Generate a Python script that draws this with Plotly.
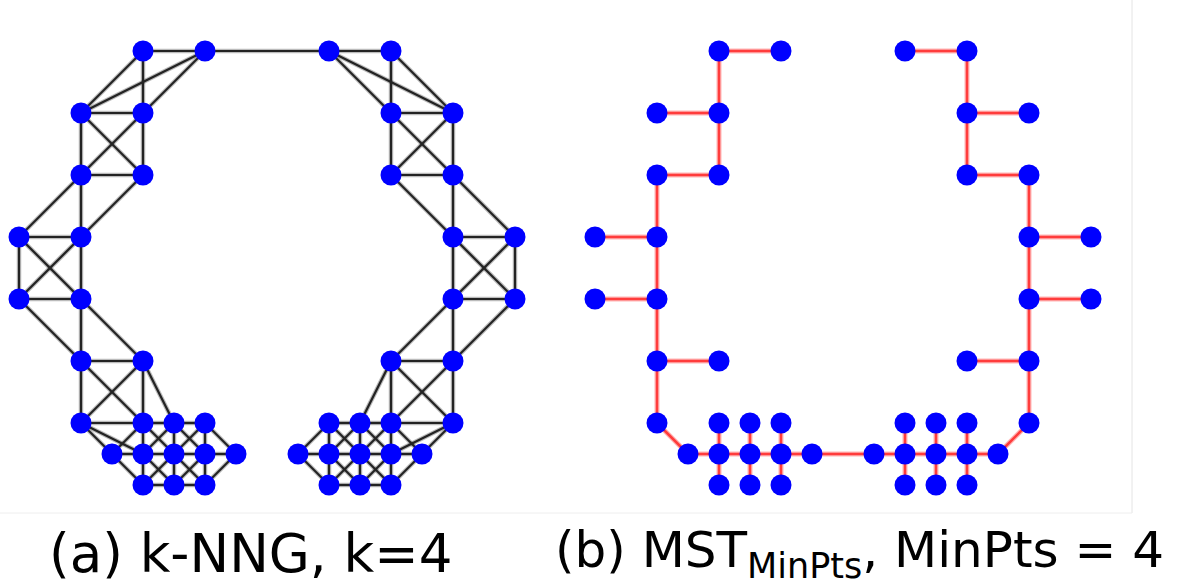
import plotly.graph_objects as go

# Node positions on a half-step grid (u to the right, v downwards), 48 points
NODE_U = [4, 6, 2, 4, 2, 4, 0, 2, 0, 2, 2, 4, 2, 4, 5, 6, 3, 4, 5, 6, 7, 4, 5, 6,
          12, 10, 14, 12, 14, 12, 16, 14, 16, 14, 14, 12, 14, 12, 11, 10, 13, 12, 11, 10, 9, 12, 11, 10]
NODE_V = [0, 0, 2, 2, 4, 4, 6, 6, 8, 8, 10, 10, 12, 12, 12, 12, 13, 13, 13, 13, 13, 14, 14, 14,
          0, 0, 2, 2, 4, 4, 6, 6, 8, 8, 10, 10, 12, 12, 12, 12, 13, 13, 13, 13, 13, 14, 14, 14]

# k-nearest-neighbour graph (k = 4), as index pairs
KNN_EDGES = [
    (0, 1), (0, 2), (0, 3), (1, 2), (1, 3), (2, 3), (2, 4), (2, 5), (3, 4), (3, 5), (4, 5),
    (4, 6), (4, 7), (5, 7), (6, 7), (6, 8), (6, 9), (7, 8), (7, 9), (8, 9), (8, 10), (9, 10),
    (9, 11), (10, 11), (10, 12), (10, 13), (11, 12), (11, 13), (11, 14), (12, 13), (12, 16),
    (12, 17), (13, 14), (14, 15), (13, 16), (13, 17), (13, 18), (14, 17), (14, 18), (14, 19),
    (15, 18), (15, 19), (15, 20), (16, 17), (16, 21), (17, 18), (17, 21), (17, 22), (18, 19),
    (18, 21), (18, 22), (18, 23), (19, 20), (19, 22), (19, 23), (20, 23), (21, 22), (22, 23),
    (24, 25), (24, 26), (24, 27), (25, 26), (25, 27), (26, 27), (26, 28), (26, 29), (27, 28),
    (27, 29), (28, 29), (28, 30), (28, 31), (29, 31), (30, 31), (30, 32), (30, 33), (31, 32),
    (31, 33), (32, 33), (32, 34), (33, 34), (33, 35), (34, 35), (34, 36), (34, 37), (35, 36),
    (35, 37), (35, 38), (36, 37), (36, 40), (36, 41), (37, 38), (38, 39), (37, 40), (37, 41),
    (37, 42), (38, 41), (38, 42), (38, 43), (39, 42), (39, 43), (39, 44), (40, 41), (40, 45),
    (41, 42), (41, 45), (41, 46), (42, 43), (42, 45), (42, 46), (42, 47), (43, 44), (43, 46),
    (43, 47), (44, 47), (45, 46), (46, 47),
    (1, 25),
]

# Minimum spanning tree on mutual-reachability distances (MinPts = 4)
MST_EDGES = [
    (0, 1), (0, 3), (2, 3), (3, 5), (4, 5), (4, 7), (6, 7), (7, 9), (8, 9), (9, 10),
    (10, 11), (10, 12), (12, 16), (16, 17), (17, 13), (17, 21), (17, 18), (18, 14),
    (18, 22), (18, 19), (19, 15), (19, 23), (19, 20),
    (24, 25), (24, 27), (26, 27), (27, 29), (28, 29), (28, 31), (30, 31), (31, 33),
    (32, 33), (33, 34), (34, 35), (34, 36), (36, 40), (40, 41), (41, 37), (41, 45),
    (41, 42), (42, 38), (42, 46), (42, 43), (43, 39), (43, 47), (43, 44),
    (20, 44),
]

CAPTIONS = ["(a) k-NNG, k=4", "(b) MST<sub>MinPts</sub>, MinPts = 4"]

# Page geometry
W, H = 1182, 585
UNIT = 31            # pixels per grid unit
TOP = 51             # pixel row of v = 0
PANEL_LEFT = [19, 595]  # pixel column of u = 0 in each panel


def edge_xy(edges):
    xs, ys = [], []
    for a, b in edges:
        xs += [NODE_U[a], NODE_U[b], None]
        ys += [NODE_V[a], NODE_V[b], None]
    return xs, ys


fig = go.Figure()

kx, ky = edge_xy(KNN_EDGES)
fig.add_trace(go.Scatter(x=kx, y=ky, mode="lines", xaxis="x", yaxis="y", cliponaxis=False,
                         line=dict(color="rgba(60,60,60,0.35)", width=4.5), hoverinfo="skip"))
fig.add_trace(go.Scatter(x=kx, y=ky, mode="lines", xaxis="x", yaxis="y", cliponaxis=False,
                         line=dict(color="rgb(35,35,35)", width=2.2), hoverinfo="skip"))
fig.add_trace(go.Scatter(x=NODE_U, y=NODE_V, mode="markers", xaxis="x", yaxis="y",
                         cliponaxis=False,
                         marker=dict(color="#0000ff", size=21, line=dict(width=0))))

mx, my = edge_xy(MST_EDGES)
fig.add_trace(go.Scatter(x=mx, y=my, mode="lines", xaxis="x2", yaxis="y", cliponaxis=False,
                         line=dict(color="rgba(255,90,90,0.45)", width=5), hoverinfo="skip"))
fig.add_trace(go.Scatter(x=mx, y=my, mode="lines", xaxis="x2", yaxis="y", cliponaxis=False,
                         line=dict(color="rgb(255,60,60)", width=2.5), hoverinfo="skip"))
fig.add_trace(go.Scatter(x=NODE_U, y=NODE_V, mode="markers", xaxis="x2", yaxis="y",
                         cliponaxis=False,
                         marker=dict(color="#0000ff", size=21, line=dict(width=0))))

half = W / 2
ax_common = dict(visible=False, showgrid=False, zeroline=False, fixedrange=True)
r0a = -(PANEL_LEFT[0]) / UNIT
r0b = -(PANEL_LEFT[1] - half) / UNIT
fig.update_layout(
    width=W, height=H,
    margin=dict(l=0, r=0, t=0, b=0),
    paper_bgcolor="white", plot_bgcolor="white",
    showlegend=False,
    xaxis=dict(domain=[0, 0.5], range=[r0a, r0a + half / UNIT], **ax_common),
    xaxis2=dict(domain=[0.5, 1], range=[r0b, r0b + half / UNIT], **ax_common),
    yaxis=dict(domain=[0, 1], range=[(H - TOP) / UNIT, -TOP / UNIT], **ax_common),
    font=dict(family="DejaVu Sans", color="black"),
)

# Caption text under each panel
for x_px, size, text in zip([47, 553], [53, 50], CAPTIONS):
    fig.add_annotation(xref="paper", yref="paper", x=x_px / W, y=1 - 553 / H,
                       xanchor="left", yanchor="middle", showarrow=False,
                       text=text, font=dict(family="DejaVu Sans", size=size, color="black"))

# Thin light frame at the right and bottom of the drawing area
fig.add_shape(type="line", xref="paper", yref="paper",
              x0=1132 / W, x1=1132 / W, y0=1, y1=1 - 513 / H,
              line=dict(color="#e4e4e4", width=1))
fig.add_shape(type="line", xref="paper", yref="paper",
              x0=0, x1=1132 / W, y0=1 - 513 / H, y1=1 - 513 / H,
              line=dict(color="#eeeeee", width=1))

fig.write_html("out.html")
